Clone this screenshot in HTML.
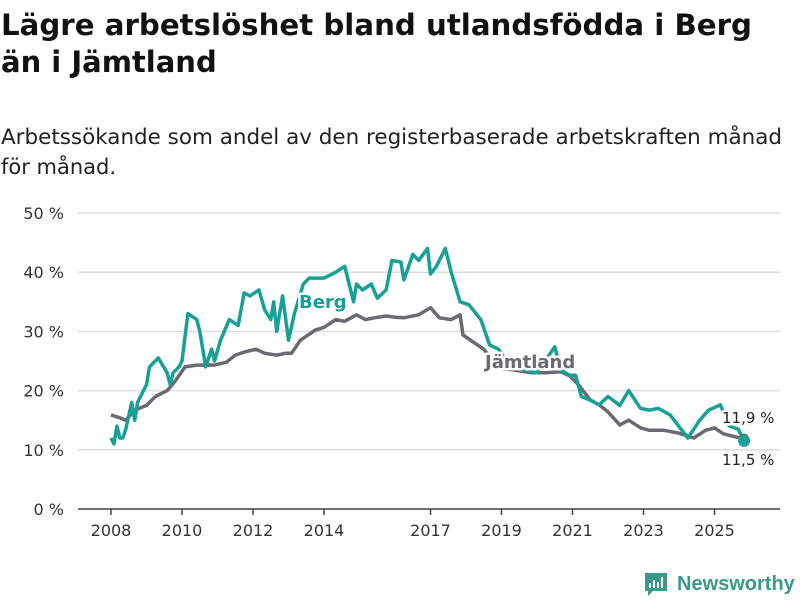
<!DOCTYPE html>
<html><head><meta charset="utf-8"><style>
body{margin:0;background:#fff;width:800px;height:600px;overflow:hidden;font-family:"Liberation Sans","DejaVu Sans",sans-serif}
</style></head><body>
<svg width="800" height="600" style="font-family:'DejaVu Sans','Liberation Sans',sans-serif">
<text x="1" y="35" font-size="29" font-weight="bold" fill="#111" textLength="751" lengthAdjust="spacingAndGlyphs">Lägre arbetslöshet bland utlandsfödda i Berg</text>
<text x="1" y="72" font-size="29" font-weight="bold" fill="#111">än i Jämtland</text>
<text x="1" y="144" font-size="21" fill="#222" textLength="781" lengthAdjust="spacingAndGlyphs">Arbetssökande som andel av den registerbaserade arbetskraften månad</text>
<text x="1" y="174" font-size="21" fill="#222">för månad.</text>
<g id="grid"></g>
<g id="axes"></g>
<g id="lines"></g>
<g>
<path d="M645 573 h22 v18 h-14 l-5 5 v-5 h-3 z" fill="#3a9a8a"/>
<rect x="649" y="583" width="2" height="5" fill="#fff"/><rect x="653" y="580" width="2" height="8" fill="#fff"/><rect x="657" y="582" width="2" height="6" fill="#fff"/><rect x="661" y="577" width="2" height="11" fill="#fff"/>
<text x="677" y="590" font-size="20" font-weight="bold" fill="#3a9a8a" font-family="Liberation Sans, sans-serif">Newsworthy</text>
</g>
</svg>
<script>
const yTicks=[0,10,20,30,40,50];
const yTickLabels=["0 %","10 %","20 %","30 %","40 %","50 %"];
const xTickYears=[2008,2010,2012,2014,2017,2019,2021,2023,2025];
const bergMonths=[0,1,2,3,4,5,7,8,9,11,12,13,16,19,20,21,23,24,26,29,30,32,34,35,37,40,43,45,47,50,52,54,55,56,58,60,62,65,67,72,76,79,82,83,85,88,90,93,95,98,99,102,104,107,108,110,113,115,118,121,125,128,131,135,144,150,152,155,157,159,162,165,168,172,175,179,182,185,189,195,199,202,206,209,212,214];
const bergValues=[12,11,14,12,12,13.5,18,15,18,20,21,24,25.5,23,21,23,24,25,33,32,30,24,27,25,28.5,32,31,36.5,36,37,33.6,32,35,30,36,28.5,33,38,39,39,40,41,35,38,37,38,35.6,37,42,41.7,38.7,43,42,44,39.7,41,44,40,35,34.5,32,27.7,27,24,23,27.4,23.5,22.6,22.6,19,18.4,17.6,19,17.5,20,17,16.7,17,15.9,12,15,16.7,17.6,14,13.5,11.5];
const jamtMonths=[0,3,5,8,12,15,19,22,25,29,32,35,39,42,45,49,52,56,59,61,64,69,72,76,79,83,86,89,93,96,99,104,108,111,115,118,119,123,126,131,136,142,147,152,155,158,162,165,168,172,175,179,182,187,192,197,201,204,207,211,214];
const jamtValues=[15.9,15.4,15,16.7,17.5,19,20,21.8,24,24.3,24.3,24.3,24.8,26,26.5,27,26.3,26,26.3,26.3,28.5,30.2,30.7,32,31.7,32.8,32,32.3,32.6,32.4,32.3,32.8,34,32.3,32,32.8,29.4,28,27,23.8,23.5,23,23,23.2,22.5,21,18.4,17.6,16.4,14.2,15,13.7,13.3,13.3,12.8,12,13.3,13.7,12.7,12.2,11.9];
const NS="http://www.w3.org/2000/svg";
function xm(m){return 111+m*35.5/12;}
function y(v){return 509-v*5.92;}
function mk(t,a,p){const e=document.createElementNS(NS,t);for(const k in a)e.setAttribute(k,a[k]);p.appendChild(e);return e;}
const grid=document.getElementById('grid'),axes=document.getElementById('axes'),lines=document.getElementById('lines');
yTicks.forEach((v,i)=>{
 if(v>0){const g=mk('line',{x1:78,x2:780,y1:y(v),y2:y(v),stroke:'#ddd','stroke-width':1.5},grid);
 
 }
 const t=mk('text',{x:64,y:y(v)+6,'text-anchor':'end','font-size':16,fill:'#333'},axes);t.textContent=yTickLabels[i];
 
 
});
const ax=mk('line',{x1:78,x2:780,y1:509,y2:509,stroke:'#444','stroke-width':1.5},axes);


xTickYears.forEach(yr=>{
 const x=xm((yr-2008)*12);
 mk('line',{x1:x,x2:x,y1:509,y2:515,stroke:'#444','stroke-width':1.5},axes);
 const t=mk('text',{x:x,y:536,'text-anchor':'middle','font-size':16,fill:'#333'},axes);t.textContent=yr;
 
 
});
function path(ms,vs){return ms.map((m,i)=>(i?'L':'M')+xm(m).toFixed(1)+' '+y(vs[i]).toFixed(1)).join(' ');}
const jl=mk('path',{d:path(jamtMonths,jamtValues),fill:'none',stroke:'#6b6a70','stroke-width':3.5,'stroke-linejoin':'round'},lines);


const bl=mk('path',{d:path(bergMonths,bergValues),fill:'none',stroke:'#17a096','stroke-width':3.5,'stroke-linejoin':'round'},lines);


const lj=jamtMonths.length-1,lb=bergMonths.length-1;
const dj=mk('circle',{cx:xm(jamtMonths[lj]),cy:y(jamtValues[lj]),r:5,fill:'#6b6a70'},lines);


const db=mk('circle',{cx:xm(bergMonths[lb]),cy:y(bergValues[lb]),r:6,fill:'#17a096'},lines);


function lab(txt,x,yy,fill,size,bold,name){
 const t=mk('text',{x:x,y:yy,'font-size':size,fill:fill,'font-weight':bold?'bold':'normal',stroke:'#fff','stroke-width':5,'paint-order':'stroke','stroke-linejoin':'round'},lines);t.textContent=txt;
 
 
}
lab('Berg',299,308,'#17a096',18,true,'berg-label');
lab('Jämtland',485,368,'#6b6a70',18,true,'jamtland-label');
lab(String(jamtValues[lj]).replace('.',',')+' %',722,423,'#222',15,false,'jamtland-value-label');
lab(String(bergValues[lb]).replace('.',',')+' %',722,465,'#222',15,false,'berg-value-label');
</script>
</body></html>
